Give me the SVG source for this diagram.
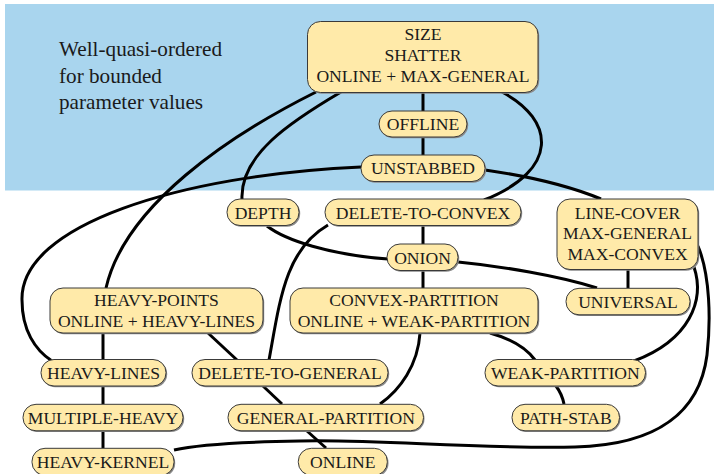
<svg xmlns="http://www.w3.org/2000/svg" width="714" height="474" viewBox="0 0 714 474">
<style>
.bg{fill:#a9d5ee}
.n rect.s{fill:#8a8a8a}
.n rect.b{fill:#ffeaa9;stroke:#3a3a3a;stroke-width:1}
.n text{font-family:"Liberation Serif","Times New Roman",serif;font-size:17.6px;fill:#1a1a1a;text-anchor:middle}
.lbl{font-family:"Liberation Serif","Times New Roman",serif;font-size:21.2px;fill:#1a1a1a}
#edges path{fill:none;stroke:#000;stroke-width:3}
</style>
<rect width="714" height="474" fill="#fff"/>
<rect class="bg" x="5" y="4" width="709" height="186.5"/>
<g id="label">
<text class="lbl" x="59" y="56">Well-quasi-ordered</text>
<text class="lbl" x="59" y="82.5">for bounded</text>
<text class="lbl" x="59" y="109">parameter values</text>
</g>
<g id="edges">
<path d="M423,93 V111"/>
<path d="M423,137 V155"/>
<path d="M316,92 C230,135 125,205 106,288"/>
<path d="M341,92 C290,122 240,155 242,199"/>
<path d="M361,167 C180,175 20,225 22,300 C22,330 35,350 52,361"/>
<path d="M485,170 Q555,180 601,199"/>
<path d="M502,92 C555,120 560,170 484,200"/>
<path d="M267,226 C285,240 330,255 388,259"/>
<path d="M458,262 C500,266 560,276 597,288"/>
<path d="M328,225 C285,250 280,300 269,360"/>
<path d="M423,226 V244"/>
<path d="M423,270 V288"/>
<path d="M628,270 V288"/>
<path d="M694,267 C705,300 690,340 634,361"/>
<path d="M698,246 C710,275 711,320 707,355 C700,410 660,445 575,447 C470,449 380,439 300,441 C240,442 200,444 174,450"/>
<path d="M103,333 V360"/>
<path d="M103,386 V404"/>
<path d="M103,431 V448"/>
<path d="M208,333 L237,360"/>
<path d="M263,386 L282,404"/>
<path d="M307,431 L326,448"/>
<path d="M420,333 C418,365 400,390 380,404"/>
<path d="M490,333 Q522,342 535,360"/>
<path d="M556,386 Q562,394 564,404"/>
</g>
<g id="n-size" class="n"><rect class="s" x="308.7" y="22.7" width="230.5" height="71" rx="13"/><rect class="b" x="307.5" y="21.5" width="230.5" height="71" rx="13"/><text x="423" y="40">SIZE</text><text x="423" y="61">SHATTER</text><text x="423" y="81.5">ONLINE + MAX-GENERAL</text></g>
<g id="n-offline" class="n"><rect class="s" x="380.2" y="112.2" width="88" height="26" rx="13"/><rect class="b" x="379" y="111" width="88" height="26" rx="13"/><text x="423" y="130">OFFLINE</text></g>
<g id="n-unstabbed" class="n"><rect class="s" x="362.2" y="156.2" width="124" height="26.5" rx="13"/><rect class="b" x="361" y="155" width="124" height="26.5" rx="13"/><text x="423" y="174">UNSTABBED</text></g>
<g id="n-depth" class="n"><rect class="s" x="228.2" y="200.2" width="72" height="26.5" rx="13"/><rect class="b" x="227" y="199" width="72" height="26.5" rx="13"/><text x="263" y="218.5">DEPTH</text></g>
<g id="n-delete-to-convex" class="n"><rect class="s" x="326.2" y="200.2" width="196" height="26.5" rx="13"/><rect class="b" x="325" y="199" width="196" height="26.5" rx="13"/><text x="423" y="218.5">DELETE-TO-CONVEX</text></g>
<g id="n-line-cover" class="n"><rect class="s" x="558.2" y="200.2" width="141" height="70.5" rx="13"/><rect class="b" x="557" y="199" width="141" height="70.5" rx="13"/><text x="627.5" y="218.5">LINE-COVER</text><text x="627.5" y="239">MAX-GENERAL</text><text x="627.5" y="260">MAX-CONVEX</text></g>
<g id="n-onion" class="n"><rect class="s" x="388.2" y="245.2" width="71" height="26.5" rx="13"/><rect class="b" x="387" y="244" width="71" height="26.5" rx="13"/><text x="422.5" y="263.5">ONION</text></g>
<g id="n-universal" class="n"><rect class="s" x="567" y="289.5" width="124" height="26.5" rx="13"/><rect class="b" x="566" y="288.3" width="124" height="26.5" rx="13"/><text x="628" y="307.5">UNIVERSAL</text></g>
<g id="n-convex-partition" class="n"><rect class="s" x="291.2" y="289.2" width="248" height="45" rx="13"/><rect class="b" x="290" y="288" width="248" height="45" rx="13"/><text x="414" y="306">CONVEX-PARTITION</text><text x="414" y="327">ONLINE + WEAK-PARTITION</text></g>
<g id="n-heavy-points" class="n"><rect class="s" x="51.2" y="289.2" width="213" height="45" rx="13"/><rect class="b" x="50" y="288" width="213" height="45" rx="13"/><text x="156.5" y="306">HEAVY-POINTS</text><text x="156.5" y="327">ONLINE + HEAVY-LINES</text></g>
<g id="n-heavy-lines" class="n"><rect class="s" x="42.2" y="360.7" width="125" height="26.5" rx="13"/><rect class="b" x="41" y="359.5" width="125" height="26.5" rx="13"/><text x="103.5" y="379">HEAVY-LINES</text></g>
<g id="n-delete-to-general" class="n"><rect class="s" x="193.2" y="360.7" width="196" height="26.5" rx="13"/><rect class="b" x="192" y="359.5" width="196" height="26.5" rx="13"/><text x="290" y="379">DELETE-TO-GENERAL</text></g>
<g id="n-weak-partition" class="n"><rect class="s" x="486.2" y="360.7" width="160.5" height="26.5" rx="13"/><rect class="b" x="485" y="359.5" width="160.5" height="26.5" rx="13"/><text x="565.3" y="379">WEAK-PARTITION</text></g>
<g id="n-multiple-heavy" class="n"><rect class="s" x="24.2" y="405.5" width="160" height="26.5" rx="13"/><rect class="b" x="23" y="404.3" width="160" height="26.5" rx="13"/><text x="103" y="423.5">MULTIPLE-HEAVY</text></g>
<g id="n-general-partition" class="n"><rect class="s" x="229" y="405.5" width="195.5" height="26.5" rx="13"/><rect class="b" x="228" y="404.3" width="195.5" height="26.5" rx="13"/><text x="325.8" y="423.5">GENERAL-PARTITION</text></g>
<g id="n-path-stab" class="n"><rect class="s" x="513" y="405.5" width="107.5" height="26.5" rx="13"/><rect class="b" x="512" y="404.3" width="107.5" height="26.5" rx="13"/><text x="565.8" y="423.5">PATH-STAB</text></g>
<g id="n-heavy-kernel" class="n"><rect class="s" x="33.2" y="449.5" width="142" height="27" rx="13"/><rect class="b" x="32" y="448.3" width="142" height="27" rx="13"/><text x="103" y="467.5">HEAVY-KERNEL</text></g>
<g id="n-online" class="n"><rect class="s" x="299.5" y="449.5" width="89" height="27" rx="13"/><rect class="b" x="298.3" y="448.3" width="89" height="27" rx="13"/><text x="342.8" y="467.5">ONLINE</text></g>
</svg>
